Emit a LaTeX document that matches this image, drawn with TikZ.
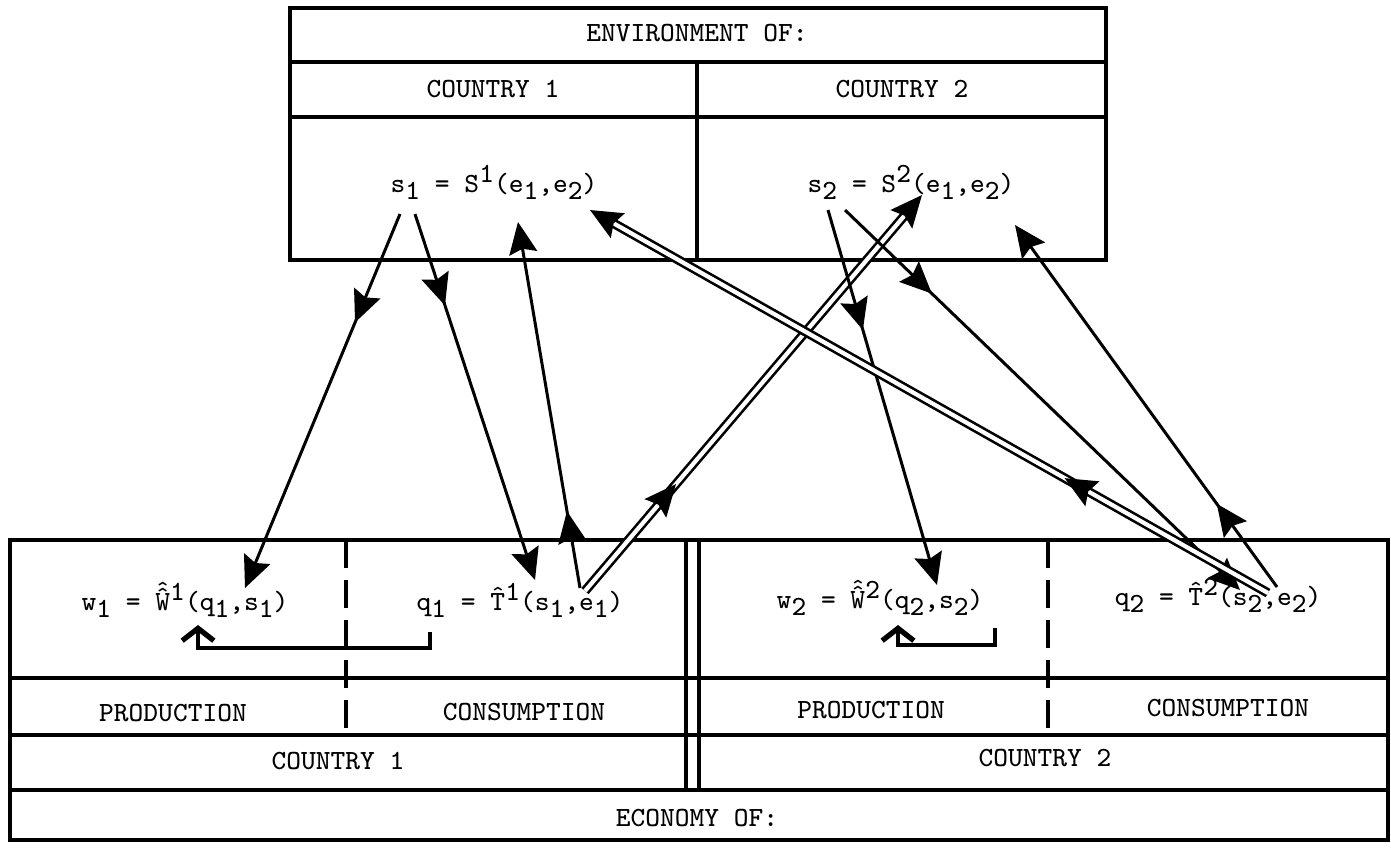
\documentclass[tikz,border=0pt]{standalone}
\usepackage{fontspec}
\usepackage{tikz}
\usetikzlibrary{arrows.meta,decorations.markings}
\newcommand\tsub[1]{\raisebox{-0.6ex}{#1}}
\newcommand\tsup[1]{\raisebox{0.8ex}{#1}}
\newcommand\caret[1]{\ooalign{#1\cr\hidewidth\raisebox{0.5ex}{\char"02C6}\hidewidth\cr}}
\newcommand\dcaret[1]{\ooalign{#1\cr\hidewidth\raisebox{0.4ex}{\char"02C6}\hidewidth\cr\hidewidth\raisebox{0.9ex}{\char"02C6}\hidewidth\cr}}
\tikzset{fat/.tip={Stealth[length=9pt,width=8pt,inset=1.3pt]}}

\begin{document}
\begin{tikzpicture}[x=0.01cm, y=-0.01cm, font=\ttfamily\fontsize{7.9}{9}\selectfont, line width=0.85pt,
  frame/.style={line width=1pt},
  part/.style={line width=1pt, dash pattern=on 0.28cm off 0.12cm},
  wire/.style={line width=0.85pt},
  dbl/.style={double, double distance=1.2pt, line width=0.75pt, shorten >=7pt},
  mid/.style={postaction={decorate}, decoration={markings, mark=at position #1 with {\arrow{fat}}}},
  heads/.style={postaction={decorate}, decoration={markings, mark=at position #1 with {\arrow{fat}}, mark=at position 1 with {\arrow{fat}}}},
  fb/.style={line width=1pt, -{Straight Barb[length=3.5pt,width=9pt,line width=1.5pt]}}]
        \useasboundingbox (0,0) rectangle (1391,847);
        \draw[frame] (290,8) rectangle (1106,260);
        \draw[frame] (290,62) -- (1106,62) (290,117) -- (1106,117) (697,62) -- (697,260);
        \draw[frame] (10,540) rectangle (1388,840);
        \draw[frame] (10,678) -- (1388,678) (10,735) -- (1388,735) (10,790) -- (1388,790);
        \draw[frame] (686,540) -- (686,790) (699,540) -- (699,790);
        \draw[part] (346,540) -- (346,735) (1048,540) -- (1048,735);
        \node (env) at (697,33) {ENVIRONMENT OF:};
        \node (ec1) at (493,89) {COUNTRY 1};
        \node (ec2) at (902,89) {COUNTRY 2};
        \node[anchor=base] (s1) at (494,192) {s\tsub{1} = S\tsup{1}(e\tsub{1},e\tsub{2})};
        \node[anchor=base] (s2) at (911,192) {s\tsub{2} = S\tsup{2}(e\tsub{1},e\tsub{2})};
        \node[anchor=base] (w1) at (185,610) {w\tsub{1} = \dcaret{W}\tsup{1}(q\tsub{1},s\tsub{1})};
        \node[anchor=base] (q1) at (520,610) {q\tsub{1} = \caret{T}\tsup{1}(s\tsub{1},e\tsub{1})};
        \node[anchor=base] (w2) at (880,608) {w\tsub{2} = \dcaret{W}\tsup{2}(q\tsub{2},s\tsub{2})};
        \node[anchor=base] (q2) at (1218,605) {q\tsub{2} = \caret{T}\tsup{2}(s\tsub{2},e\tsub{2})};
        \node (pr1) at (173,713) {PRODUCTION};
        \node (co1) at (524,712) {CONSUMPTION};
        \node (pr2) at (871,710) {PRODUCTION};
        \node (co2) at (1228,708) {CONSUMPTION};
        \node (c1) at (338,761) {COUNTRY 1};
        \node (c2) at (1045,758) {COUNTRY 2};
        \node (eco) at (697,818) {ECONOMY OF:};
        \coordinate (s1a) at (400,214); \coordinate (s1b) at (415,214);
        \coordinate (s1e1) at (518,222); \coordinate (s1e2) at (590,210);
        \coordinate (s2a) at (828,210); \coordinate (s2b) at (845,210);
        \coordinate (s2e1) at (922,195); \coordinate (s2e2) at (1015,225);
        \coordinate (w1s) at (245,588); \coordinate (q1s) at (535,580);
        \coordinate (q1a) at (580,588); \coordinate (q1b) at (585,591);
        \coordinate (w2q) at (937,585); \coordinate (q2s) at (1240,590);
        \coordinate (q2a) at (1268,593); \coordinate (q2b) at (1277,587);
        \coordinate (q1d) at (430,632); \coordinate (w1q) at (198,625);
        \coordinate (q2d) at (995,628); \coordinate (w2d) at (898,625);
        \draw[wire, -{fat}, mid=0.29] (s1a) -- (w1s);
        \draw[wire, -{fat}, mid=0.25] (s1b) -- (q1s);
        \draw[wire, -{fat}, mid=0.21] (q1a) -- (s1e1);
        \draw[dbl] (q1b) -- (s2e1); \path[heads=0.27] (q1b) -- (s2e1);
        \draw[wire, -{fat}, mid=0.32] (s2a) -- (w2q);
        \draw[wire, -{fat}, mid=0.22] (s2b) -- (q2s);
        \draw[dbl] (q2a) -- (s1e2); \path[heads=0.30] (q2a) -- (s1e2);
        \draw[wire, -{fat}, mid=0.23] (q2b) -- (s2e2);
        \draw[fb] (q1d) -- ++(0,16) -| (w1q);
        \draw[fb] (q2d) -- ++(0,17) -| (w2d);
      \end{tikzpicture}
\end{document}
